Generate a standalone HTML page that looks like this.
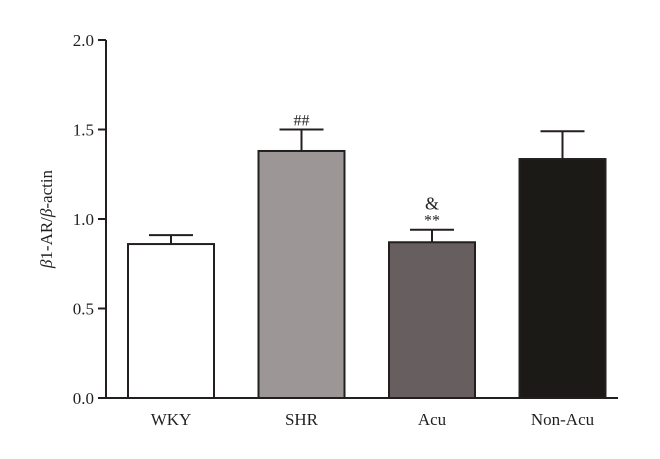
<!DOCTYPE html>
<html><head><meta charset="utf-8"><style>
body{margin:0;background:#fff}
text{font-family:"Liberation Serif",serif;fill:#231f20}
</style></head><body>
<svg width="660" height="454" id="chart">
</svg>
<script>
const categories=["WKY","SHR","Acu","Non-Acu"];
const values=[0.86,1.38,0.87,1.335];
const errors=[0.05,0.12,0.07,0.155];
const fills=["#ffffff","#9d9696","#675f5f","#1c1a17"];
const annotations=["","##","**","",];
const annotations2=["","","&",""];
const yTicks=[0,0.5,1.0,1.5,2.0];
const yTickLabels=["0.0","0.5","1.0","1.5","2.0"];
const NS="http://www.w3.org/2000/svg";
const svg=document.getElementById("chart");
const x0=106,y0=398,yTop=40,yMax=2.0;
function y(v){return y0-(y0-yTop)*v/yMax;}
function xLeft(i){return 128+i*130.5;}
const bw=86;
function el(t,a,p){const e=document.createElementNS(NS,t);for(const k in a)e.setAttribute(k,a[k]);(p||svg).appendChild(e);return e;}
const ax=el("g",{});


const ya=el("line",{x1:x0,y1:yTop,x2:x0,y2:y0+1,stroke:"#231f20","stroke-width":2},ax);


const xa=el("line",{x1:x0-1,y1:y0,x2:618,y2:y0,stroke:"#231f20","stroke-width":2},ax);


yTicks.forEach((t,i)=>{
  const tk=el("line",{x1:x0-8,y1:y(t),x2:x0,y2:y(t),stroke:"#231f20","stroke-width":2},ax);
  
  
  const tl=el("text",{x:x0-12,y:y(t)+6,"text-anchor":"end","font-size":17},ax);
  tl.textContent=yTickLabels[i];
  
  
});
const yt=el("text",{transform:"translate(52,219) rotate(-90)","text-anchor":"middle","font-size":17});
yt.innerHTML='<tspan font-style="italic">β</tspan>1-AR/<tspan font-style="italic">β</tspan>-actin';


categories.forEach((c,i)=>{
  const xl=xLeft(i),cx=xl+bw/2;
  const g=el("g",{});
  
  
  const e=el("line",{x1:cx,y1:y(values[i]),x2:cx,y2:y(values[i]+errors[i]),stroke:"#231f20","stroke-width":2},g);
  
  
  const cap=el("line",{x1:cx-22,y1:y(values[i]+errors[i]),x2:cx+22,y2:y(values[i]+errors[i]),stroke:"#231f20","stroke-width":2},g);
  
  
  const r=el("rect",{x:xl,y:y(values[i]),width:bw,height:y0-y(values[i]),fill:fills[i],stroke:"#231f20","stroke-width":2},g);
  
  
  const l=el("text",{x:cx,y:425,"text-anchor":"middle","font-size":17},g);
  l.textContent=c;
  
  
  const top=y(values[i]+errors[i]);
  if(annotations[i]){
    const a=el("text",{x:cx,y:top-4,"text-anchor":"middle","font-size":16},g);
    a.textContent=annotations[i];
    
    
  }
  if(annotations2[i]){
    const a=el("text",{x:cx,y:top-20,"text-anchor":"middle","font-size":18},g);
    a.textContent=annotations2[i];
    
    
  }
});
</script>
</body></html>
